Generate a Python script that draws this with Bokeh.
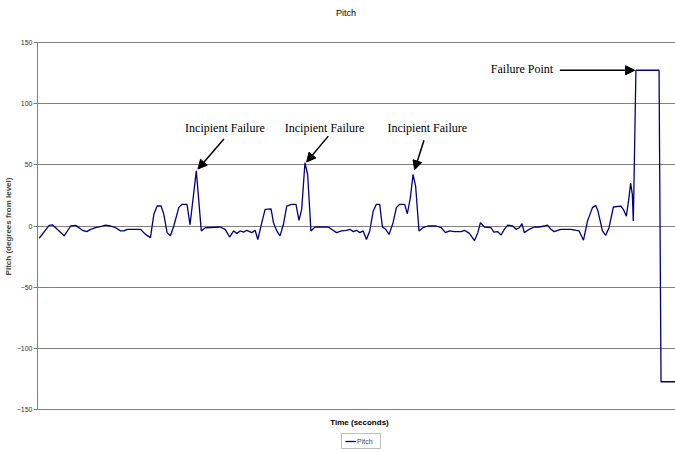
from bokeh.plotting import figure
from bokeh.models import Range1d, FixedTicker, Legend, LegendItem, Arrow, NormalHead
from bokeh.core.properties import value
from bokeh.embed import file_html
from bokeh.resources import INLINE

# ---- data ----
time_s = [1.7, 11.7, 15, 26.7, 33.3, 38.3, 41.7, 45, 49.3, 53.3, 58.3, 65, 68.3, 73.3, 78.3,
          83.3, 86.7, 90, 103.3, 108.3, 113.3, 116.7, 120, 124, 126.7, 130, 133.3, 136.7,
          141.7, 145, 150, 153, 159.3, 164.3, 168.3, 183.3, 188.3, 192.7, 196.7, 200, 203.3,
          206.7, 210, 215, 218.3, 221, 225, 228.3, 234.3, 236.7, 240, 243.3, 246.7, 250, 255,
          259.3, 262.3, 265, 268.3, 271, 274.3, 278.3, 291.7, 295, 300, 305, 310, 313.3,
          316.7, 320, 323.3, 326.7, 330, 333.3, 336.7, 340, 343.3, 346, 349.3, 352.7, 356.7,
          360, 363.3, 368.3, 371, 374, 376.7, 379.3, 382.7, 386.7, 391.7, 400, 405, 409.3,
          413.3, 418.3, 425, 428.3, 433.3, 438.3, 441.7, 444.3, 448.3, 455, 457.7, 461.7,
          465, 468.3, 471.7, 476.7, 480, 483.3, 486, 488.3, 493.3, 498.3, 503.3, 508.3,
          511.7, 515, 518.3, 521.7, 525, 535, 543.3, 547.7, 551.7, 556.7, 560, 562.3, 566.7,
          570, 573.3, 577.7, 585, 587.7, 590.7, 593.3, 595, 596.7, 597.7, 600.3, 623.5,
          625.5, 645]
pitch = [-10, 0.5, 1, -8, 0, 0.5, -1.5, -3.5, -4.6, -2.7, -1.4, 0, 0.8, 0, -1.4,
         -4, -4, -2.7, -2.7, -6.8, -9.5, 9.5, 16.3, 16.3, 9.5, -5.4, -8, 0,
         15, 17.7, 17.7, 1, 45, -4, -1.4, -0.8, -2.7, -9, -4, -6, -4,
         -5, -3.5, -5.4, -3.5, -11, 2.7, 13.6, 14, 2.7, -4, -8, 1.4, 16.3, 17.7,
         17.7, 4.6, 13.6, 51.6, 42, -4, -0.8, -0.8, -2.7, -5.4, -4, -3.5, -2.7,
         -4.6, -3.5, -5.4, -4, -11, -4, 12, 17.7, 17.7, -0.8, -2.7, -6.8, 2.7,
         15, 17.7, 17.7, 10, 23, 42, 32.6, -4, -1.4, 0, 0, -1.4, -5.4,
         -4, -4.6, -4.6, -3.5, -6, -12, -5.4, 2.7, -0.8, -1.4, -5, -4.6,
         -7.3, -2.7, 0.8, 0, -2.7, -1.4, 1.9, -5.4, -2.7, -0.8, -0.8, 0,
         0.8, -2.7, -4.6, -3.5, -2.7, -2.7, -4, -11.6, 4, 15, 16.8, 12, -4,
         -7.6, -1.4, 15.5, 16.3, 13.6, 8, 23, 35, 25.8, 4, 127, 127,
         -127, -127]

y_ticks = [-150, -100, -50, 0, 50, 100, 150]

ann_text = ["Incipient Failure", "Incipient Failure", "Incipient Failure", "Failure Point"]
ann_x = [188, 288, 391, 486]
ann_y = [80, 80, 80, 128]

arrow_x0 = [187, 291.7, 387.7, 524]
arrow_y0 = [70.9, 73.3, 70, 127]
arrow_x1 = [161, 270, 378.3, 599]
arrow_y1 = [46.5, 52.2, 45.9, 127]

chart_title = "Pitch"
x_title = "Time (seconds)"

# ---- figure ----
p = figure(width=675, height=452, output_backend="svg", toolbar_location=None,
           title_location=None,
           x_range=Range1d(0, 640), y_range=Range1d(-184.7, 183.9),
           min_border_left=35, min_border_right=0, min_border_top=0, min_border_bottom=0,
           background_fill_color="white", border_fill_color="white")
p.outline_line_color = None

# y axis (axis line limited to the -150..150 span)
p.yaxis.ticker = FixedTicker(ticks=y_ticks)
p.yaxis.bounds = (-150, 150)
p.yaxis.major_label_text_font = "Liberation Sans"
p.yaxis.major_label_text_font_size = "7px"
p.yaxis.major_label_text_color = "#333333"
p.yaxis.major_label_standoff = 1
p.yaxis.major_tick_out = 4
p.yaxis.major_tick_in = 0
p.yaxis.minor_tick_line_color = None
p.yaxis.axis_line_color = "#808080"
p.yaxis.major_tick_line_color = "#808080"
p.yaxis.axis_label = "Pitch (degrees from level)"
p.yaxis.axis_label_text_font = "Liberation Sans"
p.yaxis.axis_label_text_font_size = "8px"
p.yaxis.axis_label_text_font_style = "bold"
p.yaxis.axis_label_standoff = 1

p.xaxis.visible = False

p.xgrid.visible = False
p.ygrid.ticker = FixedTicker(ticks=y_ticks)
p.ygrid.grid_line_color = "#808080"
p.ygrid.grid_line_width = 1

r = p.line(time_s, pitch, line_color="#000080", line_width=1.3)

for x0, y0, x1, y1 in zip(arrow_x0, arrow_y0, arrow_x1, arrow_y1):
    p.add_layout(Arrow(end=NormalHead(size=9, fill_color="black", line_color="black"),
                       x_start=x0, y_start=y0, x_end=x1, y_end=y1,
                       line_color="black", line_width=1.5))

p.text(x=ann_x, y=ann_y, text=ann_text, text_font=value("Liberation Serif"),
       text_font_size="12px", text_align="center", text_baseline="middle",
       text_color="black")

# chart title above the plot area
p.text(x=[309.5], y=[173.8], text=[chart_title], text_font=value("Liberation Sans"),
       text_font_size="9px", text_align="center", text_baseline="middle",
       text_color="black")

# x axis title under the -150 line
p.text(x=[323], y=[-160.5], text=[x_title], text_font=value("Liberation Sans"),
       text_font_size="8px", text_font_style="bold", text_align="center",
       text_baseline="middle", text_color="black")

legend = Legend(items=[LegendItem(label="Pitch", renderers=[r])],
                orientation="horizontal", location=(304, 3),
                label_text_font="Liberation Sans", label_text_font_size="7px",
                glyph_width=11, glyph_height=8, padding=3, margin=0, spacing=0,
                label_standoff=1, label_height=8,
                border_line_color="#808080", border_line_width=1)
p.add_layout(legend, "center")

open("out.html", "w").write(file_html(p, INLINE))
